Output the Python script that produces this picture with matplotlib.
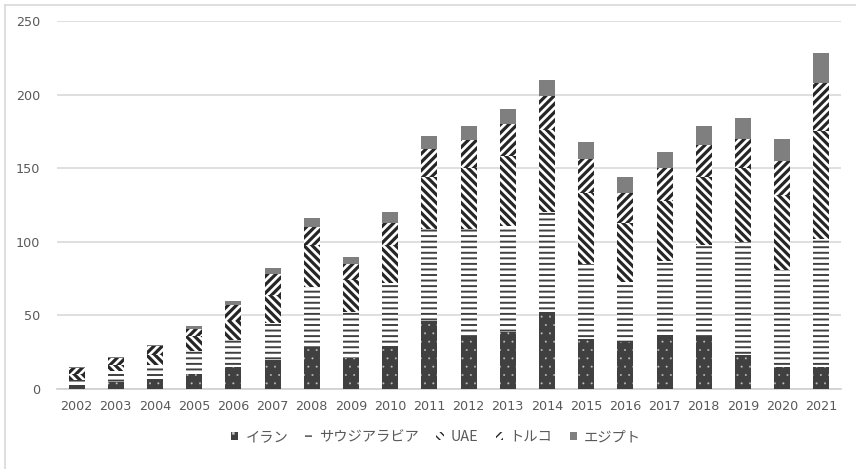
import matplotlib
matplotlib.use("Agg")
import matplotlib.pyplot as plt
from matplotlib.lines import Line2D
import numpy as np

plt.rcParams['font.family'] = ['Noto Sans CJK JP', 'DejaVu Sans']

years = [str(y) for y in range(2002, 2022)]
series_names = ['イラン', 'サウジアラビア', 'UAE', 'トルコ', 'エジプト']

iran = [3, 5, 7, 10, 15, 20, 28, 21, 29, 46, 36, 39, 52, 34, 32, 37, 36, 23, 15, 15]
saudi = [3, 7, 9, 16, 18, 25, 41, 31, 43, 63, 73, 72, 68, 51, 41, 50, 62, 77, 66, 87]
uae = [4, 4, 7, 10, 13, 19, 29, 22, 26, 35, 41, 47, 56, 48, 40, 41, 46, 50, 51, 73]
turkey = [4, 5, 6, 5, 11, 14, 12, 11, 15, 19, 19, 22, 23, 23, 20, 22, 22, 20, 23, 33]
egypt = [1, 1, 1, 2, 3, 4, 6, 5, 7, 9, 10, 10, 11, 12, 11, 11, 13, 14, 15, 20]

# (facecolor, hatch colour, hatch, hatch linewidth)
styles = [
    ('#404040', '#bdbdbd', '..', 0.2),
    ('white', '#404040', '---', 1.4),
    ('white', '#262626', '\\\\\\\\', 2.3),
    ('white', '#262626', '////', 2.3),
    ('#7f7f7f', '#7f7f7f', None, 1.0),
]

fig = plt.figure(figsize=(8.56, 4.69), dpi=100)
ax = fig.add_axes([57 / 856, 80 / 469, 784 / 856, 368 / 469])

x = np.arange(len(years))
bottom = np.zeros(len(years))
handles = []
for name, vals, (fc, hc, hatch, hlw) in zip(series_names, [iran, saudi, uae, turkey, egypt], styles):
    with plt.rc_context({'hatch.linewidth': hlw}):
        bars = ax.bar(x, vals, width=0.41, bottom=bottom, color=fc, edgecolor=hc,
                      hatch=hatch, linewidth=0, label=name, zorder=3)
    bottom += np.array(vals)
    handles.append(bars)

ax.set_xlim(-0.5, len(years) - 0.5)
ax.set_ylim(0, 250)
ax.set_yticks(range(0, 251, 50))
ax.set_xticks(x)
ax.set_xticklabels(years)
ax.yaxis.grid(True, color='#d9d9d9', linewidth=1.2, zorder=0)
for s in ['top', 'right', 'left']:
    ax.spines[s].set_visible(False)
ax.spines['bottom'].set_color('#d0d0d0')
ax.spines['bottom'].set_linewidth(1.2)
ax.tick_params(axis='both', length=0, colors='#595959')
ax.tick_params(axis='y', pad=12)
ax.tick_params(axis='x', pad=8)
for lab in ax.get_xticklabels() + ax.get_yticklabels():
    lab.set_fontfamily('DejaVu Sans')
    lab.set_fontsize(9.2)

leg = fig.legend(handles=handles, loc='center', bbox_to_anchor=(436 / 856, 1 - 437 / 469),
                 ncol=5, frameon=False, fontsize=10.3, handlelength=0.5, handleheight=0.5,
                 handletextpad=0.5, columnspacing=1.2)
for t in leg.get_texts():
    t.set_color('#595959')

# outer chart border (only top and left visible in the crop)
fig.add_artist(Line2D([5 / 856, 1], [1 - 5 / 469, 1 - 5 / 469], color='#d9d9d9', linewidth=1.2))
fig.add_artist(Line2D([5 / 856, 5 / 856], [0, 1 - 5 / 469], color='#d9d9d9', linewidth=1.2))

fig.savefig('out.png', dpi=100)
